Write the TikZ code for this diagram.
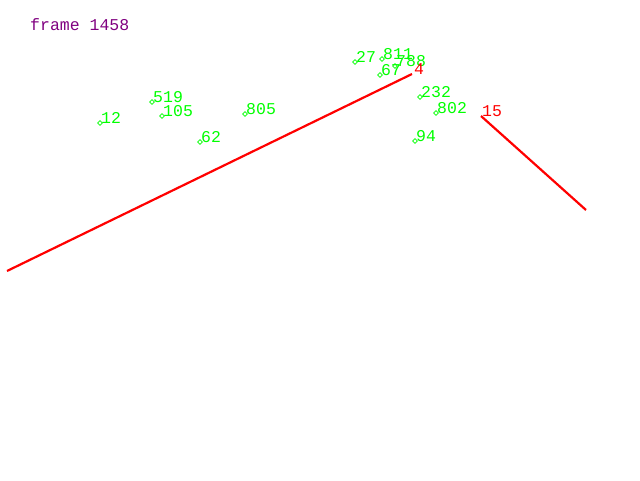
\documentclass[tikz,border=0pt]{standalone}
\usepackage{fontspec}
\setmonofont{Liberation Mono}
\usetikzlibrary{shapes.geometric}
\definecolor{ptgreen}{RGB}{0,255,0}
\definecolor{segred}{RGB}{255,0,0}
\definecolor{framepurple}{RGB}{128,0,128}
\tikzset{
  mark box/.style={diamond, draw=ptgreen, line width=0.7pt, inner sep=0pt, minimum size=5pt},
  ptlabel/.style={text=ptgreen, anchor=base west, inner sep=0pt, font=\ttfamily\fontsize{16.5}{16.5}\selectfont},
  seglabel/.style={ptlabel, text=segred},
  segment/.style={draw=segred, line width=2.2pt},
}
\begin{document}
\begin{tikzpicture}[x=1pt, y=-1pt]
  % Canvas
  \useasboundingbox (0,0) rectangle (640,480);

  \node[anchor=base west, inner sep=0pt, text=framepurple,
        font=\ttfamily\fontsize{16.5}{16.5}\selectfont] (frame) at (30,30) {frame 1458};

  % Tracked points: name/x/y
  \foreach \n/\x/\y in {27/355/62, 811/382/59, 788/395/66, 67/380/75,
                        519/152/102, 105/162/116, 12/100/123, 805/245/114,
                        62/200/142, 232/420/97, 802/436/113, 94/415/141} {
    \node[mark box] (p\n) at (\x,\y) {};
    \node[ptlabel] (l\n) at ([xshift=1pt]p\n.center) {\n};
  }

  % Segments
  \coordinate (s4a) at (7,271);
  \coordinate (s4b) at (412,74);
  \coordinate (s15a) at (481,116);
  \coordinate (s15b) at (586,210);
  \draw[segment] (s4a) -- (s4b);
  \draw[segment] (s15a) -- (s15b);
  \node[seglabel] (l4) at ([xshift=2pt]s4b) {4};
  \node[seglabel] (l15) at ([xshift=1pt]s15a) {15};
\end{tikzpicture}
\end{document}
